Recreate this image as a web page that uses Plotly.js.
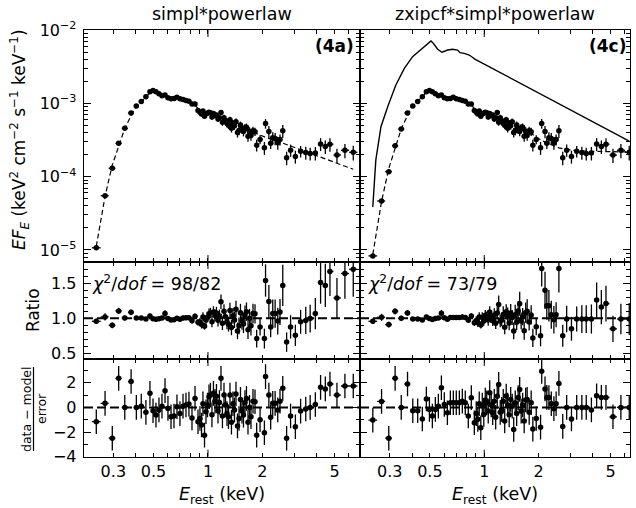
<!DOCTYPE html>
<html><head><meta charset="utf-8">
<script src="https://cdn.plot.ly/plotly-3.0.1.min.js"></script>
<style>html,body{margin:0;padding:0;background:#fff}#chart{width:636px;height:508px}</style>
</head><body><div id="chart"></div>
<script>
// ---------------- data ----------------
const energy = [0.2415,0.270,0.296,0.321,0.347,0.376,0.402,0.428,0.454,0.478,
0.497,0.516,0.536,0.557,0.579,0.601,0.625,0.649,0.674,0.700,0.728,0.756,0.785,0.816,0.848,0.881,
0.903,0.921,0.938,0.957,0.975,0.994,1.013,1.032,1.052,1.072,1.093,1.114,1.136,1.157,1.180,1.202,1.226,1.249,1.274,1.298,1.323,1.348,1.374,1.401,1.428,1.456,1.484,1.512,1.541,1.571,1.601,1.632,1.664,1.696,1.728,1.773,1.819,
1.858,1.94,2.05,2.08,2.17,2.22,2.28,2.35,2.43,2.50,2.59,2.72,2.86,3.04,3.25,3.47,3.67,3.92,4.19,4.45,4.72,5.16,5.71,6.35];

const fluxA = [1.07e-5,5.5e-5,1.30e-4,2.85e-4,4.56e-4,7.4e-4,9.2e-4,1.06e-3,1.23e-3,1.44e-3,
1.496e-3,1.435e-3,1.355e-3,1.271e-3,1.297e-3,1.191e-3,1.159e-3,1.164e-3,1.211e-3,1.156e-3,1.132e-3,1.096e-3,1.069e-3,9.82e-4,9.82e-4,8.0e-4,
7.55e-4,7.16e-4,7.83e-4,6.67e-4,7.20e-4,7.33e-4,7.54e-4,7.46e-4,6.50e-4,7.29e-4,6.84e-4,6.92e-4,6.12e-4,6.38e-4,7.48e-4,5.52e-4,6.38e-4,5.82e-4,5.31e-4,5.02e-4,5.96e-4,4.57e-4,5.35e-4,4.94e-4,5.61e-4,3.99e-4,4.25e-4,5.06e-4,4.42e-4,4.13e-4,4.63e-4,4.73e-4,3.55e-4,4.16e-4,3.64e-4,4.24e-4,4.11e-4,
2.69e-4,3.21e-4,2.48e-4,5.30e-4,4.12e-4,2.86e-4,3.40e-4,3.32e-4,2.90e-4,3.21e-4,4.22e-4,1.81e-4,2.30e-4,1.88e-4,2.22e-4,2.13e-4,2.07e-4,2.10e-4,2.79e-4,2.58e-4,2.77e-4,1.97e-4,2.29e-4,2.15e-4];

// unfolded data of the right fit differ only in the first bins
const fluxCLow = [8.3e-6,4.66e-5,1.17e-4,2.64e-4,4.47e-4];

const relErr = [0.040,0.050,0.045,0.040,0.035,0.038,0.030,0.030,0.025,0.030,
0.025,0.025,0.025,0.025,0.045,0.030,0.030,0.030,0.030,0.030,0.035,0.035,0.035,0.040,0.040,0.050,
0.063,0.065,0.065,0.057,0.070,0.070,0.072,0.070,0.084,0.075,0.083,0.080,0.092,0.087,0.083,0.106,0.093,0.100,0.110,0.115,0.100,0.126,0.110,0.118,0.106,0.145,0.135,0.116,0.130,0.142,0.124,0.120,0.160,0.135,0.155,0.130,0.130,
0.18,0.14,0.20,0.15,0.19,0.17,0.19,0.19,0.20,0.17,0.20,0.21,0.19,0.20,0.18,0.20,0.20,0.21,0.20,0.21,0.21,0.22,0.22,0.23];

const ratioA = [0.957,1.02,0.90,1.105,1.005,1.086,1.005,1.005,0.99,1.034,
0.993,0.985,0.995,1.003,1.068,0.998,0.977,0.979,1.002,0.985,1.004,1.007,1.009,0.966,1.029,0.942,
0.946,0.914,1.02,0.888,0.976,1.014,1.065,1.075,0.952,1.091,1.043,1.077,0.973,1.036,1.236,0.93,1.10,1.021,0.948,0.916,1.11,0.868,1.035,0.977,1.131,0.82,0.892,1.081,0.962,0.919,1.052,1.095,0.838,1.0,0.894,1.07,1.064,
0.71,0.877,0.71,1.54,1.24,0.877,1.067,1.067,0.96,1.09,1.47,0.66,0.877,0.757,0.95,0.97,0.996,1.067,1.51,1.47,1.67,1.29,1.64,1.70];

const residA = [-1.16,0.33,-2.5,2.36,0.0,2.1,0.0,0.1,-0.4,1.14,
-0.27,-0.62,-0.2,0.1,1.36,-0.08,-0.76,-0.7,0.05,-0.5,0.1,0.2,0.27,-0.86,0.73,-1.16,
-0.9,-1.43,0.3,-2.25,-0.35,0.2,0.87,1.0,-0.6,1.14,0.5,0.9,-0.3,0.4,2.36,-0.7,1.0,0.2,-0.5,-0.76,1.0,-1.2,0.3,-0.2,1.09,-1.5,-0.9,0.65,-0.3,-0.62,0.4,0.73,-1.2,0.0,-0.76,0.5,0.46,
-2.25,-1.0,-2.06,2.5,1.0,-0.8,0.33,0.33,-0.2,0.5,1.55,-2.5,-0.7,-1.57,-0.3,-0.13,0.0,0.24,1.63,1.5,1.9,1.0,1.74,1.74];

const ratioC = [0.957,1.014,0.91,1.10,1.0,1.077,0.99,0.99,0.975,1.02,
0.996,0.983,0.996,1.003,1.072,1.007,0.987,1.011,1.011,1.011,1.013,1.018,1.013,0.972,1.032,0.938,
0.969,0.937,1.02,0.906,1.014,0.96,1.043,1.027,0.975,1.09,1.017,0.966,1.046,0.93,1.075,1.198,0.963,0.984,1.055,0.874,1.093,1.025,0.934,1.077,1.011,0.82,1.051,0.942,1.104,1.207,0.963,1.024,0.824,1.081,1.10,0.948,1.049,
0.72,0.88,0.75,1.71,1.40,1.18,1.18,1.05,0.98,1.05,1.71,0.75,0.99,0.85,0.99,0.99,0.99,0.99,1.26,1.16,1.21,0.85,0.99,0.99];

const residC = [-1.03,0.49,-2.5,2.36,0.0,1.9,-0.27,-0.27,-0.94,0.68,
-0.16,-0.7,-0.16,0.1,1.6,0.24,-0.43,0.38,0.38,0.38,0.38,0.51,0.38,-0.7,0.79,-1.24,
-0.5,-0.97,0.3,-1.65,0.2,-0.57,0.6,0.38,-0.3,1.2,0.2,-0.43,0.5,-0.8,0.9,1.87,-0.4,-0.16,0.5,-1.1,0.93,0.2,-0.6,0.65,0.1,-1.79,0.38,-0.5,0.8,1.46,-0.3,0.2,-1.1,0.6,0.65,-0.4,0.38,
-1.76,-0.9,-1.6,2.93,1.5,0.81,0.8,0.3,-0.1,0.3,1.95,-1.54,0.0,-0.94,0.0,0.0,0.0,-0.2,0.95,0.81,0.81,-0.76,0.0,0.0];

// models
const modelAE = [0.2415,0.270,0.296,0.321,0.347,0.376,0.402,0.428,0.454,0.478,0.497,0.536,0.579,0.649,0.700,0.785,0.848,0.881,0.903,1.013,1.202,1.428,1.819,2.08,2.59,4.19,6.35];
const modelAF = [1.12e-5,5.4e-5,1.44e-4,2.58e-4,4.54e-4,6.81e-4,9.15e-4,1.055e-3,1.235e-3,1.39e-3,1.507e-3,1.36e-3,1.213e-3,1.19e-3,1.175e-3,1.059e-3,9.55e-4,8.49e-4,7.98e-4,7.08e-4,5.94e-4,4.97e-4,3.86e-4,3.44e-4,2.87e-4,1.85e-4,1.26e-4];
const modelCE = [0.2415,0.270,0.296,0.321,0.347,0.376,0.402,0.428,0.454,0.478,0.497,0.536,0.579,0.649,0.700,0.785,0.848,0.881,0.903,1.013,1.202,1.428,1.819,1.858,2.08,2.59,2.72,3.25,4.19,6.35];
const modelCF = [8.7e-6,4.6e-5,1.29e-4,2.4e-4,4.47e-4,6.87e-4,9.3e-4,1.07e-3,1.26e-3,1.41e-3,1.507e-3,1.36e-3,1.213e-3,1.19e-3,1.175e-3,1.059e-3,9.55e-4,8.49e-4,7.98e-4,7.08e-4,5.94e-4,4.97e-4,3.86e-4,3.74e-4,3.1e-4,2.47e-4,2.41e-4,2.24e-4,2.21e-4,2.17e-4];
const intrinsicE = [0.2415,0.251,0.268,0.292,0.324,0.361,0.401,0.456,0.507,0.522,0.552,0.583,0.627,0.668,0.712,0.734,0.775,0.826,0.892,6.35];
const intrinsicF = [3.86e-5,1.69e-4,4.8e-4,9.0e-4,1.78e-3,3.0e-3,4.33e-3,5.6e-3,7.08e-3,6.6e-3,5.46e-3,4.97e-3,5.33e-3,5.46e-3,5.33e-3,4.91e-3,4.81e-3,4.56e-3,3.98e-3,3.05e-4];

const xTickVals = [0.3,0.5,1,2,5];
const xTickText = ['0.3','0.5','1','2','5'];
const xMinorVals = [0.2,0.4,0.6,0.7,0.8,0.9,3,4,6,7,8,9];
const fluxTickVals = [1e-5,1e-4,1e-3,1e-2];
const fluxTickText = ['10<sup>−5</sup>','10<sup>−4</sup>','10<sup>−3</sup>','10<sup>−2</sup>'];
const ratioTickVals = [0.5,1.0,1.5];
const ratioTickText = ['0.5','1.0','1.5'];
const residTickVals = [-4,-2,0,2];
const residTickText = ['−4','−2','0','2'];
const titleA = 'simpl*powerlaw';
const titleC = 'zxipcf*simpl*powerlaw';
const chiA = '<i>χ</i><sup>2</sup>/<i>dof</i> = 98/82';
const chiC = '<i>χ</i><sup>2</sup>/<i>dof</i> = 73/79';

// ---------------- derived helpers ----------------
const fluxC = fluxCLow.concat(fluxA.slice(fluxCLow.length));
const n = energy.length;
const xMinus = [], xPlus = [];
for (let i = 0; i < n; i++) {
  const lo = i > 0 ? Math.sqrt(energy[i-1]*energy[i]) : energy[0]*energy[0]/Math.sqrt(energy[0]*energy[1]);
  const hi = i < n-1 ? Math.sqrt(energy[i]*energy[i+1]) : energy[i]*energy[i]/Math.sqrt(energy[i-1]*energy[i]);
  xMinus.push(energy[i]-lo); xPlus.push(hi-energy[i]);
}
const errFA = fluxA.map((v,i)=>v*relErr[i]);
const errFC = fluxC.map((v,i)=>v*relErr[i]);
const errRA = ratioA.map((v,i)=>v*relErr[i]);
const errRC = ratioC.map((v,i)=>v*relErr[i]);

const fluxMinor = [];
for (let d = -6; d <= -3; d++) for (let k = 2; k <= 9; k++) fluxMinor.push(k*Math.pow(10,d));

// ---------------- layout geometry ----------------
const W = 636, H = 508;
const px = v => v / W, py = v => 1 - v / H;
const xL = [px(84), px(360)], xR = [px(360), px(630)];
const yTop = [py(262), py(30)], yMid = [py(359), py(262)], yBot = [py(456.7), py(359)];
const rangeL = [-0.685, 0.840], rangeR = [-0.688, 0.807];

const ex = {color:'black', thickness:1.3, width:0};
function dataTrace(y, ey, xa, ya, constErr) {
  return {x: energy, y: y, mode:'markers', type:'scatter', xaxis:xa, yaxis:ya,
    marker:{color:'black', size:5.5}, hoverinfo:'skip', cliponaxis:true,
    error_y: constErr ? Object.assign({type:'constant', value:1}, ex) : Object.assign({type:'data', array:ey}, ex),
    error_x: Object.assign({type:'data', symmetric:false, array:xPlus, arrayminus:xMinus}, ex)};
}
function lineTrace(x, y, xa, ya, dash, w) {
  return {x:x, y:y, mode:'lines', type:'scatter', xaxis:xa, yaxis:ya, hoverinfo:'skip',
    line:{color:'black', width:w, dash:dash}};
}

const traces = [
  lineTrace(modelAE, modelAF, 'x', 'y', '5px,3px', 1.2),
  dataTrace(fluxA, errFA, 'x', 'y'),
  lineTrace(intrinsicE, intrinsicF, 'x2', 'y2', 'solid', 1.4),
  lineTrace(modelCE, modelCF, 'x2', 'y2', '5px,3px', 1.2),
  dataTrace(fluxC, errFC, 'x2', 'y2'),
  dataTrace(ratioA, errRA, 'x3', 'y3'),
  dataTrace(ratioC, errRC, 'x4', 'y4'),
  dataTrace(residA, null, 'x5', 'y5', true),
  dataTrace(residC, null, 'x6', 'y6', true)
];

const tf = {family:'DejaVu Sans', size:16, color:'black'};
function xAx(domain, anchor, range, labels) {
  return {domain, anchor, type:'log', range, showline:true, linecolor:'black', linewidth:1.3, mirror:'allticks',
    ticks:'inside', ticklen:4, tickwidth:1, tickcolor:'black', tickmode:'array', tickvals:xTickVals, ticktext:xTickText,
    showticklabels:labels, tickfont:tf, ticklabelstandoff:0, showgrid:false, zeroline:false,
    minor:{tickmode:'array', tickvals:xMinorVals, ticks:'inside', ticklen:4, tickwidth:1, tickcolor:'black', showgrid:false}};
}
function yAx(domain, anchor, range, type, tv, tt, minor, labels) {
  return {domain, anchor, type, range, showline:true, linecolor:'black', linewidth:1.3, mirror:'allticks',
    ticks:'inside', ticklen:7, tickwidth:1, tickcolor:'black', tickmode:'array', tickvals:tv, ticktext:tt,
    showticklabels:labels, tickfont:tf, ticklabelstandoff:3, showgrid:false, zeroline:false,
    minor:Object.assign({ticks:'inside', ticklen:4, tickwidth:1, tickcolor:'black', showgrid:false}, minor)};
}
const fluxMinorCfg = {tickmode:'array', tickvals:fluxMinor};
const ratioMinorCfg = {tickmode:'linear', tick0:0, dtick:0.1};
const residMinorCfg = {tickmode:'linear', tick0:0, dtick:1};

const shapes = [];
[['x3','y3',1],['x4','y4',1],['x5','y5',0],['x6','y6',0]].forEach(([xa,ya,v]) => {
  shapes.push({type:'line', xref:xa+' domain', x0:0, x1:1, yref:ya, y0:v, y1:v,
    line:{color:'black', width:2, dash:'9px,4px'}, layer:'above'});
});
// long major ticks at 1 keV
[['x','y'],['x2','y2'],['x3','y3'],['x4','y4'],['x5','y5'],['x6','y6']].forEach(([xa,ya]) => {
  shapes.push({type:'line', xref:xa, x0:1, x1:1, yref:ya+' domain', ysizemode:'pixel', yanchor:0, y0:0, y1:7, line:{color:'black', width:1}});
  shapes.push({type:'line', xref:xa, x0:1, x1:1, yref:ya+' domain', ysizemode:'pixel', yanchor:1, y0:0, y1:-7, line:{color:'black', width:1}});
});
// fraction bar of the residual label
shapes.push({type:'line', xref:'paper', yref:'paper', x0:px(33.5), x1:px(33.5), y0:py(451), y1:py(367), line:{color:'black', width:1.2}});

const af = {family:'DejaVu Sans', color:'black'};
const annotations = [
  {text:titleA, x:px(222), y:py(14), xref:'paper', yref:'paper', showarrow:false, font:Object.assign({size:17.5}, af), xanchor:'center', yanchor:'middle'},
  {text:titleC, x:px(495), y:py(14), xref:'paper', yref:'paper', showarrow:false, font:Object.assign({size:17.5}, af), xanchor:'center', yanchor:'middle'},
  {text:'<b>(4a)</b>', x:px(356), y:py(46), xref:'paper', yref:'paper', showarrow:false, font:Object.assign({size:17}, af), xanchor:'right', yanchor:'middle'},
  {text:'<b>(4c)</b>', x:px(628), y:py(46), xref:'paper', yref:'paper', showarrow:false, font:Object.assign({size:17}, af), xanchor:'right', yanchor:'middle'},
  {text:chiA, x:px(90), y:py(283), xref:'paper', yref:'paper', showarrow:false, font:Object.assign({size:17.5}, af), xanchor:'left', yanchor:'middle'},
  {text:chiC, x:px(366), y:py(283), xref:'paper', yref:'paper', showarrow:false, font:Object.assign({size:17.5}, af), xanchor:'left', yanchor:'middle'},
  {text:'<i>EF</i><sub><i>E</i></sub> (keV<sup>2</sup> cm<sup>−2</sup> s<sup>−1</sup> keV<sup>−1</sup>)', x:px(20), y:py(140), xref:'paper', yref:'paper', showarrow:false, textangle:-90, font:Object.assign({size:17}, af), xanchor:'center', yanchor:'middle'},
  {text:'Ratio', x:px(33), y:py(310), xref:'paper', yref:'paper', showarrow:false, textangle:-90, font:Object.assign({size:17}, af), xanchor:'center', yanchor:'middle'},
  {text:'data − model', x:px(26), y:py(409), xref:'paper', yref:'paper', showarrow:false, textangle:-90, font:Object.assign({size:12.5}, af), xanchor:'center', yanchor:'middle'},
  {text:'error', x:px(41), y:py(409), xref:'paper', yref:'paper', showarrow:false, textangle:-90, font:Object.assign({size:12.5}, af), xanchor:'center', yanchor:'middle'},
  {text:'<i>E</i><sub>rest</sub> (keV)', x:px(222), y:py(495), xref:'paper', yref:'paper', showarrow:false, font:Object.assign({size:17.5}, af), xanchor:'center', yanchor:'middle'},
  {text:'<i>E</i><sub>rest</sub> (keV)', x:px(495), y:py(495), xref:'paper', yref:'paper', showarrow:false, font:Object.assign({size:17.5}, af), xanchor:'center', yanchor:'middle'}
];

const layout = {
  width:W, height:H, margin:{l:0,r:0,t:0,b:0}, showlegend:false,
  paper_bgcolor:'white', plot_bgcolor:'white', font:{family:'DejaVu Sans', color:'black'},
  xaxis: xAx(xL,'y',rangeL,false),
  xaxis2: xAx(xR,'y2',rangeR,false),
  xaxis3: xAx(xL,'y3',rangeL,false),
  xaxis4: xAx(xR,'y4',rangeR,false),
  xaxis5: xAx(xL,'y5',rangeL,true),
  xaxis6: xAx(xR,'y6',rangeR,true),
  yaxis: yAx(yTop,'x',[-5.164,-2],'log',fluxTickVals,fluxTickText,fluxMinorCfg,true),
  yaxis2: yAx(yTop,'x2',[-5.164,-2],'log',fluxTickVals,fluxTickText,fluxMinorCfg,false),
  yaxis3: yAx(yMid,'x3',[0.419,1.804],'linear',ratioTickVals,ratioTickText,ratioMinorCfg,true),
  yaxis4: yAx(yMid,'x4',[0.419,1.804],'linear',ratioTickVals,ratioTickText,ratioMinorCfg,false),
  yaxis5: yAx(yBot,'x5',[-4,3.93],'linear',residTickVals,residTickText,residMinorCfg,true),
  yaxis6: yAx(yBot,'x6',[-4,3.93],'linear',residTickVals,residTickText,residMinorCfg,false),
  shapes, annotations
};
Plotly.newPlot('chart', traces, layout, {staticPlot:true, displayModeBar:false});
</script></body></html>
